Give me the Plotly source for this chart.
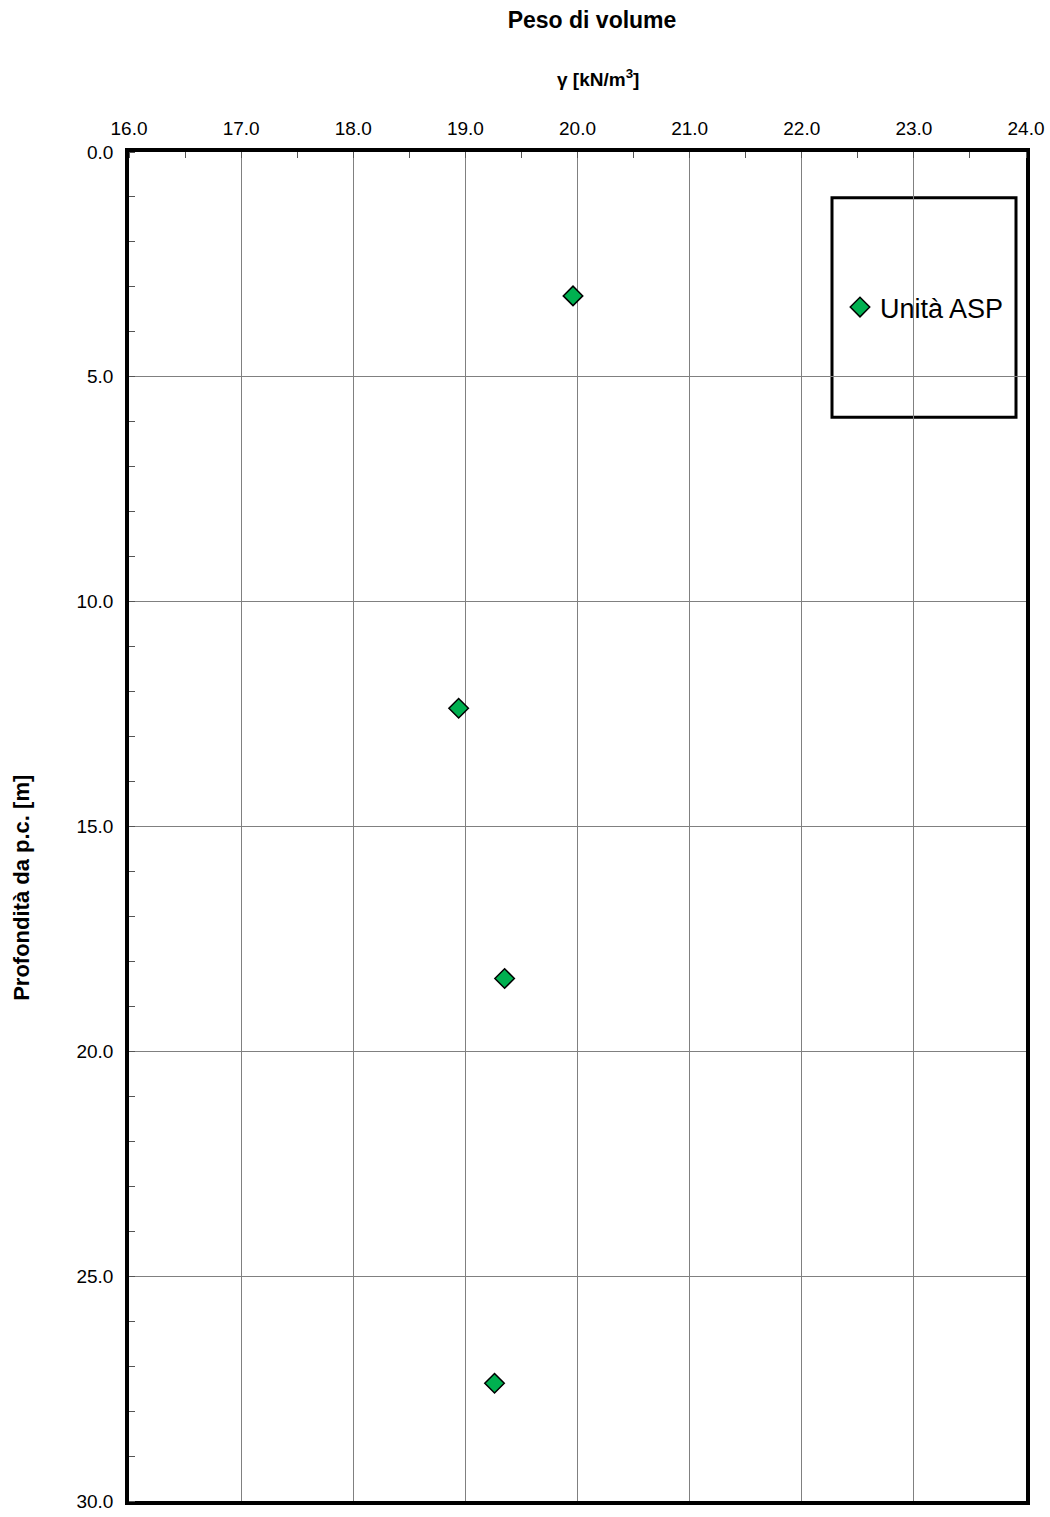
import plotly.graph_objects as go

# Unit weight measurements versus depth below ground level
gamma_kn_m3 = [19.96, 18.94, 19.35, 19.26]
depth_m = [3.2, 12.37, 18.38, 27.38]
series_name = "Unità ASP"

x_ticks = [16, 17, 18, 19, 20, 21, 22, 23, 24]
y_ticks = [0, 5, 10, 15, 20, 25, 30]

FONT = "Liberation Sans, Arial, sans-serif"
W, H = 1050, 1509
ML, MR, MT, MB = 129, 24, 152, 4
PW = W - ML - MR
PH = H - MT - MB

fig = go.Figure()
fig.add_trace(go.Scatter(
    x=gamma_kn_m3, y=depth_m, mode="markers", name=series_name,
    marker=dict(symbol="diamond", size=15, color="#00B050",
                line=dict(color="black", width=1.5)),
))

fig.update_layout(
    width=W, height=H,
    margin=dict(l=ML, r=MR, t=MT, b=MB),
    paper_bgcolor="white", plot_bgcolor="white",
    font=dict(family=FONT, color="black", size=19),
    title=dict(text="<b>Peso di volume</b>", x=592 / W, xanchor="center",
               y=1 - 20 / H, yanchor="middle", yref="container",
               font=dict(size=23, family=FONT)),
    showlegend=True,
    legend=dict(x=(840 - ML) / PW, y=(H - MB - 308) / PH,
                xanchor="left", yanchor="middle",
                bgcolor="rgba(0,0,0,0)", borderwidth=0,
                font=dict(size=27, family=FONT),
                itemsizing="trace", itemwidth=30),
    xaxis=dict(
        side="top", range=[16, 24], tickvals=x_ticks,
        tickformat=".1f", ticks="", showgrid=True, gridcolor="#808080",
        gridwidth=1, showline=True, linecolor="black", linewidth=3.5,
        mirror=True, zeroline=False, tickfont=dict(size=19),
        ticklabelstandoff=6, ticklabeloverflow="allow",
        minor=dict(dtick=0.5, tick0=16, ticks="inside", ticklen=6,
                   tickcolor="#555555", showgrid=False),
    ),
    yaxis=dict(
        range=[30, 0], tickvals=y_ticks, tickformat=".1f", ticks="",
        showgrid=True, gridcolor="#808080", gridwidth=1,
        showline=True, linecolor="black", linewidth=3.5, mirror=True,
        zeroline=False, tickfont=dict(size=19), ticklabelstandoff=8,
        ticklabeloverflow="allow", automargin=False,
        minor=dict(dtick=1, tick0=0, ticks="inside", ticklen=6,
                   tickcolor="#555555", showgrid=False),
    ),
    annotations=[
        # axis titles
        dict(text="<b>γ [kN/m<sup>3</sup>]</b>", xref="paper", yref="paper",
             x=(598 - ML) / PW, y=(H - MB - 78) / PH,
             xanchor="center", yanchor="middle", showarrow=False,
             font=dict(size=19, family=FONT)),
        dict(text="<b>Profondità da p.c. [m]</b>", xref="paper", yref="paper",
             x=(22 - ML) / PW, y=(H - MB - 890) / PH, textangle=-90,
             xanchor="center", yanchor="middle", showarrow=False,
             font=dict(size=22, family=FONT)),
    ],
    shapes=[dict(type="rect", xref="paper", yref="paper",
                 x0=(832 - ML) / PW, x1=(1016 - ML) / PW,
                 y0=(H - MB - 418) / PH, y1=(H - MB - 198) / PH,
                 line=dict(color="black", width=3), fillcolor="white",
                 layer="between")],
)

# let the lowest depth label paint past the bottom edge of the svg
show_overflow = (
    "document.querySelectorAll('.main-svg')"
    ".forEach(function (s) { s.style.overflow = 'visible'; });"
)

fig.write_html("out.html", post_script=show_overflow)
